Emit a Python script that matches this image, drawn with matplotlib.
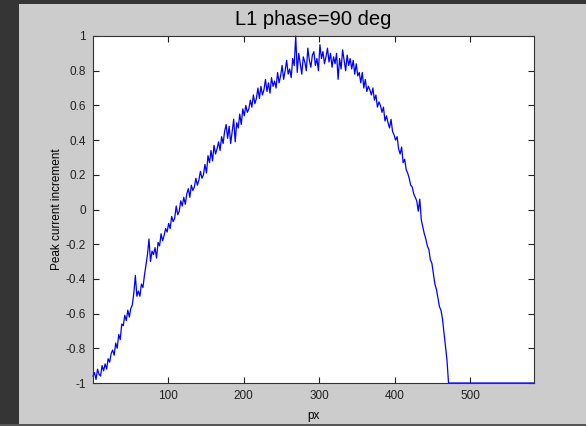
import numpy as np
import matplotlib
matplotlib.use("Agg")
import matplotlib.pyplot as plt
from matplotlib.patches import Rectangle

plt.rcParams['font.family'] = ['Liberation Sans', 'DejaVu Sans']

# sampled every 2 px, from px=1 to px=469
px_start = 1
px_step = 2
peak_increment = [
    -0.96, -0.94, -0.98, -0.92, -0.95, -0.96, -0.90, -0.93, -0.89, -0.92,
    -0.86, -0.88, -0.83, -0.81, -0.84, -0.77, -0.80, -0.72, -0.75, -0.66,
    -0.67, -0.61, -0.64, -0.58, -0.62, -0.57, -0.55, -0.48, -0.38, -0.50,
    -0.47, -0.50, -0.43, -0.45, -0.38, -0.32, -0.26, -0.17, -0.30, -0.24,
    -0.26, -0.22, -0.28, -0.19, -0.21, -0.14, -0.18, -0.15, -0.11, -0.13,
    -0.08, -0.11, -0.04, -0.07, -0.05, 0.02, -0.03, -0.01, 0.05, 0.02,
    0.07, 0.03, 0.09, 0.12, 0.07, 0.14, 0.11, 0.13, 0.18, 0.14,
    0.17, 0.22, 0.18, 0.20, 0.26, 0.21, 0.31, 0.27, 0.34, 0.28,
    0.37, 0.32, 0.35, 0.39, 0.34, 0.42, 0.38, 0.45, 0.49, 0.41,
    0.48, 0.38, 0.45, 0.52, 0.39, 0.50, 0.47, 0.55, 0.49, 0.58,
    0.54, 0.60, 0.56, 0.58, 0.63, 0.59, 0.66, 0.61, 0.64, 0.70,
    0.64, 0.71, 0.66, 0.69, 0.75, 0.68, 0.73, 0.67, 0.76, 0.71,
    0.74, 0.70, 0.79, 0.73, 0.77, 0.83, 0.75, 0.80, 0.86, 0.78,
    0.81, 0.76, 0.87, 0.83, 1.00, 0.79, 0.90, 0.84, 0.78, 0.88,
    0.85, 0.80, 0.93, 0.86, 0.82, 0.89, 0.91, 0.83, 0.87, 0.80,
    0.95, 0.87, 0.91, 0.84, 0.88, 0.93, 0.85, 0.90, 0.82, 0.88,
    0.84, 0.90, 0.75, 0.87, 0.81, 0.92, 0.86, 0.80, 0.89, 0.83,
    0.87, 0.81, 0.86, 0.78, 0.84, 0.77, 0.79, 0.73, 0.79, 0.70,
    0.75, 0.68, 0.71, 0.69, 0.66, 0.70, 0.63, 0.66, 0.59, 0.62,
    0.60, 0.56, 0.59, 0.51, 0.54, 0.50, 0.47, 0.52, 0.45, 0.43,
    0.40, 0.42, 0.35, 0.32, 0.36, 0.27, 0.29, 0.23, 0.21, 0.18,
    0.14, 0.13, 0.09, 0.07, 0.05, -0.01, 0.06, -0.06, -0.10, -0.14,
    -0.17, -0.21, -0.23, -0.29, -0.31, -0.37, -0.43, -0.46, -0.51, -0.56,
    -0.58, -0.63, -0.71, -0.79, -0.87,
]
# saturated tail
tail_px = [471, 584]
tail_val = [-1, -1]

yticks = [-1, -0.8, -0.6, -0.4, -0.2, 0, 0.2, 0.4, 0.6, 0.8, 1]
ytick_labels = ['-1', '-0.8', '-0.6', '-0.4', '-0.2', '0', '0.2', '0.4', '0.6', '0.8', '1']
xticks = [100, 200, 300, 400, 500]

px = px_start + px_step * np.arange(len(peak_increment))
x = np.concatenate([px, tail_px])
y = np.concatenate([peak_increment, tail_val])

fig = plt.figure(figsize=(5.86, 4.26), dpi=100, facecolor='#cccccc')
# dark window border
fig.patches.append(Rectangle((0, 0), 19/586, 1, transform=fig.transFigure,
                             facecolor='#353535', edgecolor='none', zorder=-1))
fig.patches.append(Rectangle((0, 1 - 4/426), 1, 4/426, transform=fig.transFigure,
                             facecolor='#353535', edgecolor='none', zorder=-1))
fig.patches.append(Rectangle((0, 0), 1, 2/426, transform=fig.transFigure,
                             facecolor='#555555', edgecolor='none', zorder=-1))

ax = fig.add_axes([93/586, 1 - 383/426, (534 - 93)/586, (383 - 36)/426])
ax.plot(x, y, color='#0000ff', lw=0.9, clip_on=False)

ax.set_xlim(1, 584)
ax.set_ylim(-1, 1)
ax.set_xticks(xticks)
ax.set_yticks(yticks)
ax.set_yticklabels(ytick_labels)
ax.tick_params(direction='in', length=4, width=0.8, top=True, right=True,
               labelsize=8.5, colors='#222222', pad=5)
for s in ax.spines.values():
    s.set_color('#333333')
    s.set_linewidth(0.8)

ax.set_title("L1 phase=90 deg", fontsize=14.5, pad=8)
ax.set_xlabel("px", fontsize=8.5, labelpad=6)
ax.set_ylabel("Peak current increment", fontsize=8.5, labelpad=2)

fig.savefig("out.png", dpi=100, facecolor=fig.get_facecolor())
